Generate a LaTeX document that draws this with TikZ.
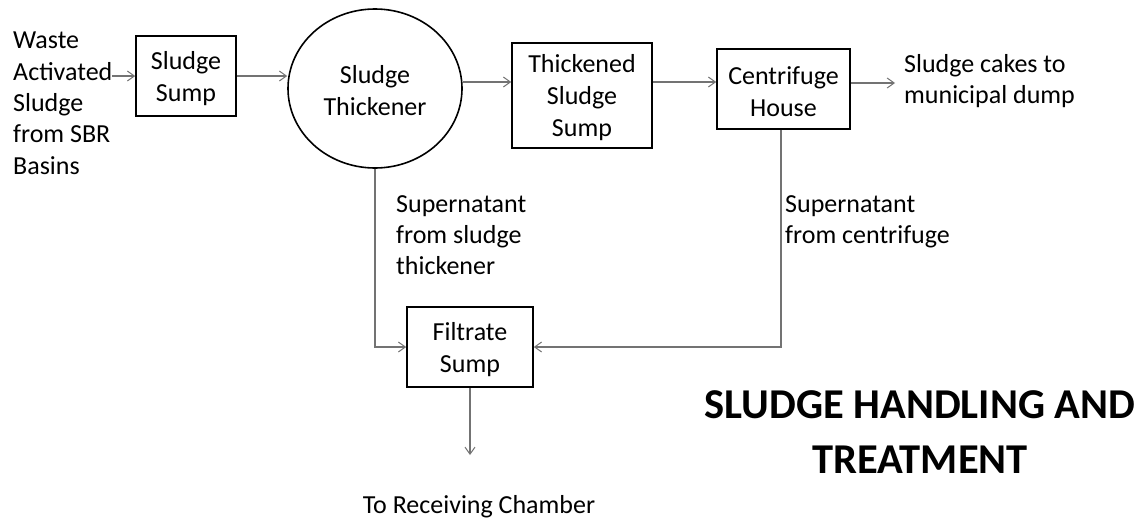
\documentclass[tikz,border=0pt]{standalone}
\usepackage{fontspec}
\setmainfont{Carlito}
\usetikzlibrary{arrows.meta,shapes.geometric}
\newcommand\tup{\rule{0pt}{23pt}}
\tikzset{
  box/.style={draw=black,line width=1.6pt,inner sep=0pt,align=center,font=\fontsize{26}{32}\selectfont},
  lbl/.style={inner sep=0pt,align=left,font=\fontsize{26}{31.3}\selectfont},
  arr/.style={draw=black!55,line width=1.1pt,-{Straight Barb[length=7pt,width=10pt,line width=1pt]}},
}
\begin{document}
\begin{tikzpicture}[x=1pt,y=-1pt]
\useasboundingbox[fill=white] (0,0) rectangle (1143,520);
% nodes
\node[box,minimum width=100pt,minimum height=80pt] (sump) at (186,76) {\tup Sludge\\Sump};
\node[box,ellipse,minimum width=174pt,minimum height=159pt] (thick) at (375,88.5) {\tup Sludge\\Thickener};
\node[box,minimum width=140pt,minimum height=105pt] (tss) at (582,95.5) {\tup Thickened\\Sludge\\Sump};
\node[box,minimum width=133pt,minimum height=80pt] (cen) at (783.5,89) {\tup Centrifuge\\House};
\node[box,minimum width=126pt,minimum height=80pt] (fil) at (470,347) {\tup Filtrate\\Sump};
% labels
\node[lbl,anchor=north west] (src) at (13,32) {Waste\\Activated\\Sludge\\from SBR\\Basins};
\node[lbl,anchor=north west] (cakes) at (904,54) {Sludge cakes to\\municipal dump};
\node[lbl,anchor=north west] (sup1) at (396,195) {Supernatant\\from sludge\\thickener};
\node[lbl,anchor=north west] (sup2) at (785,195) {Supernatant\\from centrifuge};
\node[lbl,anchor=base] (recvl) at (479,513) {To Receiving Chamber};
\node[inner sep=0pt,align=center,anchor=north,font=\fontsize{42.5}{55}\selectfont\bfseries] (title) at (920,390) {SLUDGE HANDLING AND\\TREATMENT};
% coordinates
\coordinate (in) at (112,76);
\coordinate (r1) at (0,82);
\coordinate (r2) at (0,83);
\coordinate (out) at (895,83);
\coordinate (recv) at (470,455);
% connectors
\draw[arr] (in) -- (sump.west);
\draw[arr] (sump.east) -- (thick.west |- sump.east);
\draw[arr] ([yshift=6.5pt]thick.east) -- (tss.west |- r1);
\draw[arr] (tss.east |- r1) -- (cen.west |- r1);
\draw[arr] (cen.east |- r2) -- (out);
\draw[arr] (thick.south) -- (thick.south |- fil.west) -- (fil.west);
\draw[arr] ([xshift=-2.5pt]cen.south) -- ([xshift=-2.5pt]cen.south |- fil.east) -- (fil.east);
\draw[arr] (fil.south) -- (recv);
\end{tikzpicture}
\end{document}
